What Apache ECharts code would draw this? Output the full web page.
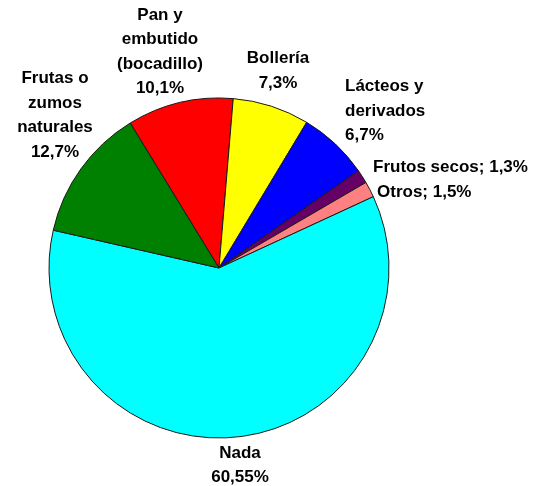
<!DOCTYPE html>
<html>
<head>
<meta charset="utf-8">
<script src="https://cdn.jsdelivr.net/npm/echarts@6/dist/echarts.min.js"></script>
<style>
  html, body { margin: 0; padding: 0; background: #ffffff; }
  #chart { width: 541px; height: 486px; }
</style>
</head>
<body>
<div id="chart"></div>
<script>
// Slices in clockwise order, starting from the red one at the top
const categories = [
  'Pan y\nembutido\n(bocadillo)',
  'Bollería',
  'Lácteos y\nderivados',
  'Frutos secos',
  'Otros',
  'Nada',
  'Frutas o\nzumos\nnaturales'
];
const values = [10.1, 7.3, 6.7, 1.3, 1.5, 60.55, 12.7];
const colors = ['#ff0000', '#ffff00', '#0000ff', '#660066', '#ff8080', '#00ffff', '#008000'];
// single-line labels use "; " before the percentage, the rest break the line
const inlineLabel = [false, false, false, true, true, false, false];

// label anchors: [x, y, align, verticalAlign]
const labelSpots = [
  [160, 3, 'center', 'top'],
  [278, 46.5, 'center', 'top'],
  [345, 74.5, 'left', 'top'],
  [373, 167, 'left', 'middle'],
  [377, 192.5, 'left', 'middle'],
  [240, 441, 'center', 'top'],
  [55, 66.5, 'center', 'top']
];

const pct = v => String(v).replace('.', ',') + '%';

const chart = echarts.init(document.getElementById('chart'), null, { renderer: 'canvas' });
chart.setOption({
  animation: false,
  backgroundColor: '#ffffff',
  series: [{
    type: 'pie',
    center: [219, 268],
    radius: [0, 170],
    startAngle: 121.5,
    clockwise: true,
    avoidLabelOverlap: false,
    silent: true,
    itemStyle: { borderColor: '#1a1a1a', borderWidth: 1 },
    label: {
      show: true,
      position: 'outside',
      color: '#000000',
      fontFamily: '"Liberation Sans", Arial, sans-serif',
      fontWeight: 'bold',
      fontSize: 17,
      lineHeight: 24.5,
      formatter: p => inlineLabel[p.dataIndex]
        ? p.name + '; ' + pct(values[p.dataIndex])
        : p.name + '\n' + pct(values[p.dataIndex])
    },
    labelLine: { show: false },
    labelLayout: p => {
      const s = labelSpots[p.dataIndex];
      return { x: s[0], y: s[1], align: s[2], verticalAlign: s[3] };
    },
    data: categories.map((name, i) => ({
      name: name,
      value: values[i],
      itemStyle: { color: colors[i] }
    }))
  }]
});
</script>
</body>
</html>
